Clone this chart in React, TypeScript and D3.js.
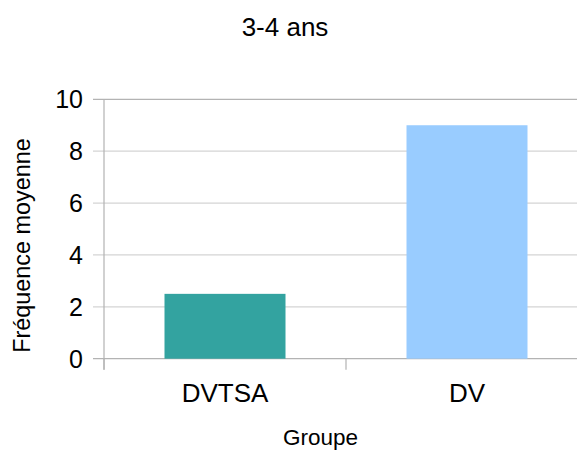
import React from "react";
import * as d3 from "d3";

const categories = ["DVTSA", "DV"];
const values = [2.5, 9];
const colors = ["#33a3a0", "#99ccff"];
const yTicks = [0, 2, 4, 6, 8, 10];
const title = "3-4 ans";
const xTitle = "Groupe";
const yTitle = "Fréquence moyenne";

const W = 577;
const H = 450;
const left = 104;
const right = 588;
const top = 99.3;
const bottom = 358.7;
const font = "'Liberation Sans', Arial, sans-serif";

export default function App() {
  const x = d3.scaleBand<string>().domain(categories).range([left, right]).paddingInner(0.5).paddingOuter(0.25);
  const y = d3.scaleLinear().domain([0, 10]).range([bottom, top]);
  const step = x.step();
  const catTicks = d3.range(categories.length + 1).map((i) => left + i * step);

  return (
    <svg
      width={W}
      height={H}
      style={{ position: "fixed", left: 0, top: 0, background: "#fff" }}
      fontFamily={font}
    >
      <rect x={0} y={0} width={W} height={H} fill="#fff" />
      {yTicks.map((t) => (
        <line
          key={"g" + t}
          x1={left - 11}
          x2={right}
          y1={y(t)}
          y2={y(t)}
          stroke={t === 10 || t === 0 ? "#b3b3b3" : "#d4d4d4"}
          strokeWidth={1.2}
        />
      ))}
      <line x1={left} x2={left} y1={top} y2={bottom + 11} stroke="#b3b3b3" strokeWidth={1.2} />
      {catTicks.map((cx, i) => (
        <line key={"ct" + i} x1={cx} x2={cx} y1={bottom} y2={bottom + 11} stroke="#b3b3b3" strokeWidth={1.2} />
      ))}
      {categories.map((c, i) => (
        <rect
          key={c}
          x={x(c)}
          y={y(values[i])}
          width={x.bandwidth()}
          height={y(0) - y(values[i])}
          fill={colors[i]}
        />
      ))}
      {yTicks.map((t) => (
        <text key={"l" + t} x={83} y={y(t) + 9} textAnchor="end" fontSize={25} fill="#000">
          {t}
        </text>
      ))}
      {categories.map((c) => (
        <text key={"c" + c} x={(x(c) as number) + x.bandwidth() / 2} y={401.5} textAnchor="middle" fontSize={26} fill="#000">
          {c}
        </text>
      ))}
      <text x={285} y={36} textAnchor="middle" fontSize={26} fill="#000">
        {title}
      </text>
      <text x={320.5} y={444.5} textAnchor="middle" fontSize={22.5} fill="#000">
        {xTitle}
      </text>
      <text
        transform={`translate(30,245.5) rotate(-90)`}
        textAnchor="middle"
        fontSize={23.4}
        fill="#000"
      >
        {yTitle}
      </text>
    </svg>
  );
}
